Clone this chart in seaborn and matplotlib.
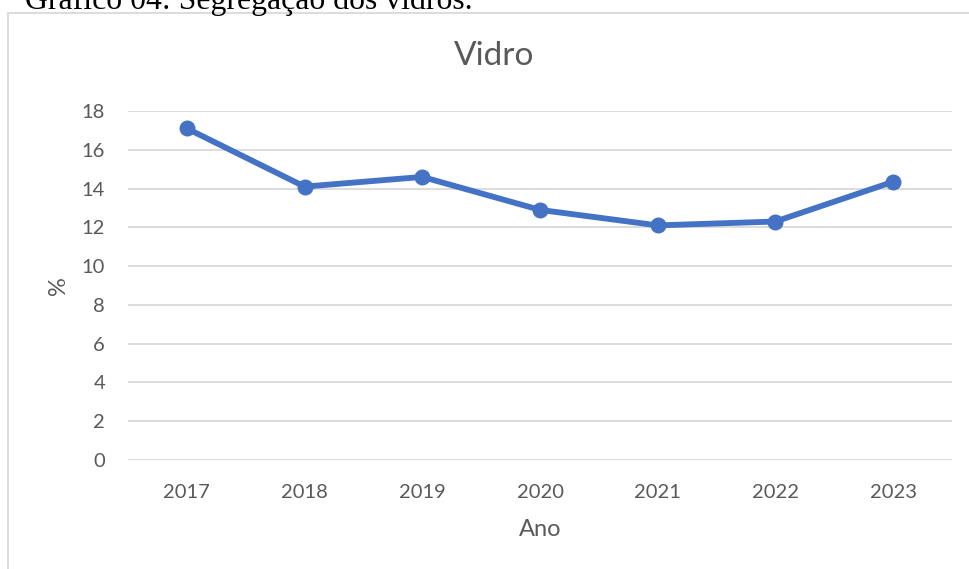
import matplotlib
matplotlib.use("Agg")
import matplotlib.pyplot as plt
import seaborn as sns
import pandas as pd
from matplotlib.lines import Line2D

# data
anos = ["2017", "2018", "2019", "2020", "2021", "2022", "2023"]
vidro = [17.1, 14.1, 14.6, 12.9, 12.1, 12.3, 14.35]
yticks = [0, 2, 4, 6, 8, 10, 12, 14, 16, 18]

df = pd.DataFrame({"Ano": anos, "%": vidro})

sns.set_theme(style="white")
plt.rcParams["font.family"] = ["Lato", "DejaVu Sans"]

W, H = 969, 569
fig = plt.figure(figsize=(W / 100, H / 100), dpi=100)
# plot area: x 128..952, y 111..460 (pixels)
ax = fig.add_axes([128 / W, 1 - 460 / H, (952 - 128) / W, (460 - 111) / H])

sns.lineplot(data=df, x="Ano", y="%", ax=ax, color="#4472C4", linewidth=4.2,
             marker="o", markersize=11.5, markeredgewidth=0, sort=False)

ax.set_xlim(-0.5, len(anos) - 0.5)
ax.set_ylim(0, 18)
ax.set_yticks(yticks)
ax.grid(axis="y", color="#D9D9D9", linewidth=1.3)
ax.grid(axis="x", visible=False)
ax.set_axisbelow(True)
for s in ax.spines.values():
    s.set_visible(False)
ax.tick_params(axis="both", length=0, colors="#595959", labelsize=14.5)
ax.tick_params(axis="y", pad=16.5)
ax.tick_params(axis="x", pad=17)

ax.set_xlabel("Ano", fontsize=17, color="#595959")
ax.xaxis.set_label_coords(0.5, (460 - 530) / 349)
ax.xaxis.label.set_va("center")
ax.set_ylabel("%", fontsize=17, color="#595959")
ax.yaxis.set_label_coords((59 - 128) / 824, 0.5)
ax.yaxis.label.set_va("center")

ax.set_title("Vidro", fontsize=24, color="#595959", pad=0,
             x=(494 - 128) / 824, y=(460 - 56) / 349, va="center")

# chart border (only left and top visible in the crop)
fig.add_artist(Line2D([7.5 / W, 7.5 / W], [0, 1 - 12.5 / H], color="#D9D9D9", linewidth=1.3))
fig.add_artist(Line2D([7.5 / W, 1], [1 - 12.5 / H, 1 - 12.5 / H], color="#D9D9D9", linewidth=1.3))

# caption above the chart, cut off at the top (as in the source)
fig.text(25 / W, 1 - 9.5 / H, "Gráfico 04: Segregação dos vidros.",
         family=["Liberation Serif", "DejaVu Serif"], fontsize=22.9, color="black",
         ha="left", va="baseline")

fig.savefig("out.png", dpi=100)
